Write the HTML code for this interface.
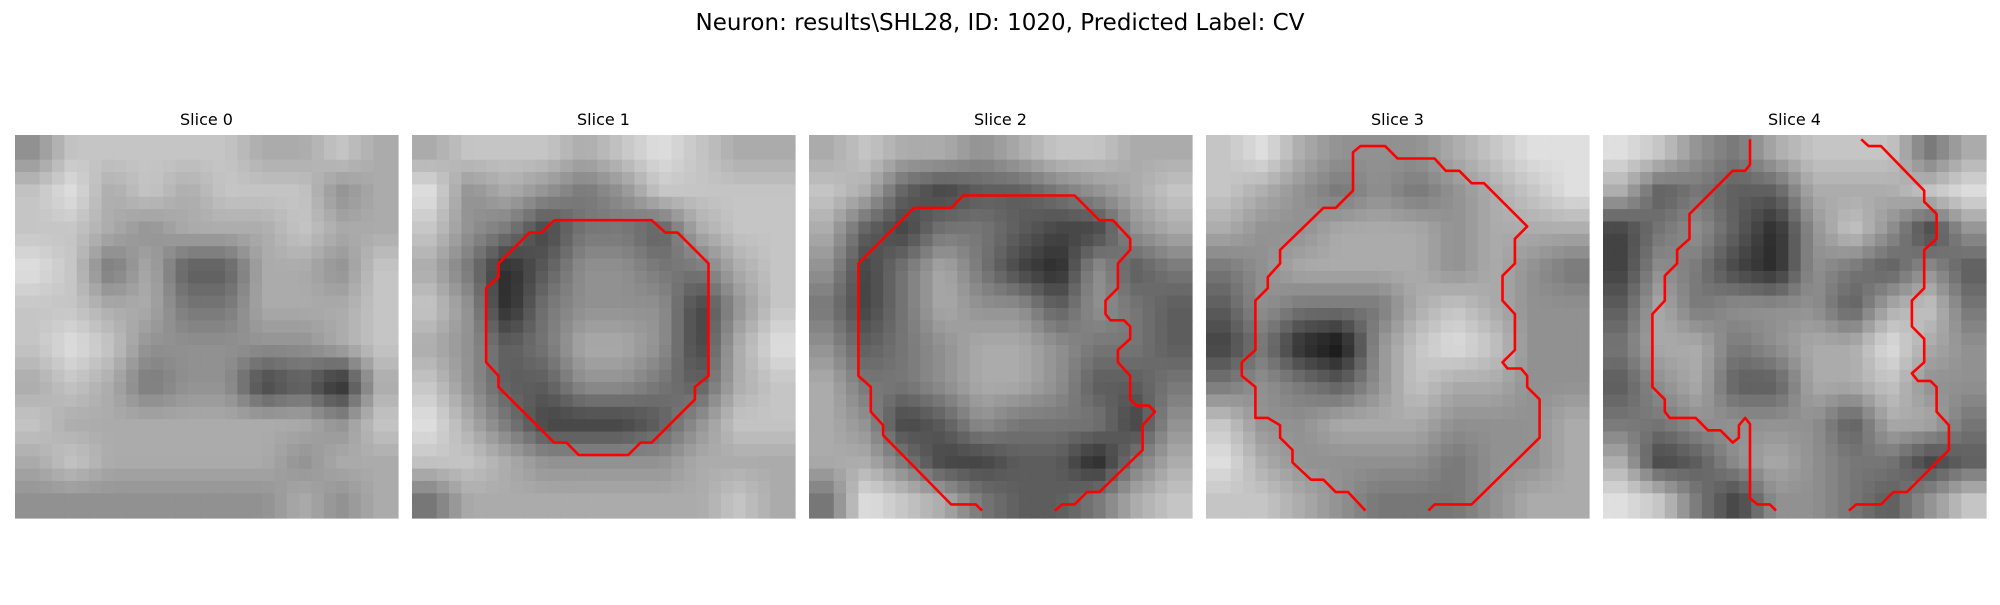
<!DOCTYPE html>
<html><head><meta charset="utf-8">
<style>
html,body{margin:0;padding:0;background:#fff;}
body{width:2000px;height:600px;overflow:hidden;font-family:"Liberation Sans","DejaVu Sans",sans-serif;}
</style></head>
<body>
<svg id="fig" width="2000" height="600" xmlns="http://www.w3.org/2000/svg">
<text x="1000" y="30" text-anchor="middle" font-size="23" font-family="DejaVu Sans, Liberation Sans, sans-serif">Neuron: results\SHL28, ID: 1020, Predicted Label: CV</text>
</svg>
<script>
const sliceTitles = ["Slice 0","Slice 1","Slice 2","Slice 3","Slice 4"];
const gridN = 31;
// coarse intensity grids (0 = black, 9 = white), 10x10 per slice
const slice0 = ["5777776676","7867677756","7765666766","8746336657","7766446667","7875555567","6764552316","7666666657","6766666566","5555555656"];
const slice1 = ["6777678766","8565457777","7542443677","6413554467","7514555257","6534665268","7533554367","8642223577","7765555666","4666666676"];
const slice2 = ["6766567766","7632334567","6324432256","5246421534","4246553543","5345665443","6445665334","6523544425","6642233146","4876433467"];
const slice3 = ["7865556788","7654545678","6556665666","4566665654","3544467655","2410578755","4543576655","7556665556","8655554556","7765444566"];
const slice4 = ["8754677746","6343366678","2453157525","2542154353","3645553674","4664566865","3563366755","4455553664","6235654423","8742554357"];
const slices = [slice0, slice1, slice2, slice3, slice4];
// contour outlines in cell units (x, y)
const contour1 = [[[11.5,6.9],[19.4,6.9],[20.5,7.9],[21.5,7.9],[24,10.4],[24,19.5],[22.9,20.4],[22.9,21.4],[19.4,24.9],[18.5,24.9],[17.5,25.9],[13.5,25.9],[12.5,24.9],[11.5,24.9],[7,20.4],[7,19.5],[6,18.4],[6,12.4],[7,11.5],[7,10.4],[9.5,7.9],[10.5,7.9],[11.5,6.9]]];
const contour2 = [[[14,30.4],[13.5,29.9],[11.5,29.9],[6,24.3],[6,23.5],[5,22.4],[5,20.4],[4,19.5],[4,10.4],[8.5,5.9],[11.5,5.9],[12.5,4.9],[21.5,4.9],[23.5,6.9],[24.6,6.9],[26,8.4],[26,9.3],[25,10.4],[25,12.4],[24,13.4],[24,14.5],[24.4,15],[25.5,15],[26,15.5],[26,16.5],[25,17.4],[25,18.4],[26,19.5],[26,21.4],[26.5,21.9],[27.5,21.9],[28,22.4],[27,23.5],[27,25.5],[23.5,28.9],[22.5,28.9],[21.5,29.9],[20.5,29.9],[19.9,30.4]]];
const contour3 = [[[12.9,30.4],[11.5,28.9],[10.5,28.9],[9.5,27.9],[8.5,27.9],[7,26.5],[7,25.5],[6,24.5],[6,23.5],[5,22.9],[4,22.9],[4,20.4],[2.9,19.5],[2.9,18.4],[4,17.4],[4,13.4],[5,12.4],[5,11.5],[6,10.4],[6,9.3],[9.5,5.9],[10.5,5.9],[11.9,4.5],[11.9,1.4],[12.5,0.9],[14.5,0.9],[15.5,1.9],[18.5,1.9],[19.4,2.9],[20.5,2.9],[21.5,3.9],[22.5,3.9],[26,7.4],[25,8.4],[25,10.4],[24,11.4],[24,13.4],[25,14.5],[25,17.4],[24,18.4],[24.4,18.9],[25.5,18.9],[26,19.5],[26,20.4],[27,21.4],[27,24.5],[21.5,29.9],[18.5,29.9],[18,30.4]]];
const contour4 = [
 [[11.9,0.35],[11.9,2.4],[11.5,2.9],[10.5,2.9],[7,6.4],[7,8.4],[6,9.3],[6,10.4],[5,11.4],[5,13.4],[4,14.5],[4,20.4],[5,21.4],[5,22.4],[5.4,22.9],[7.5,22.9],[8.5,23.9],[9.5,23.9],[10.5,24.9],[11,24.5],[11,23.5],[11.5,22.9],[11.9,23.4],[11.9,29.4],[12.5,29.9],[13.5,29.9],[14,30.4]],
 [[20.9,0.35],[21.5,0.9],[22.5,0.9],[26,4.5],[26,5.4],[27,6.4],[27,8.4],[26,9.3],[26,12.4],[25,13.4],[25,15.5],[26,16.5],[26,18.4],[25,19.3],[25.5,19.9],[26.5,19.9],[27,20.4],[27,22.4],[28,23.5],[28,25.5],[24.6,28.9],[23.5,28.9],[22.5,29.9],[20.5,29.9],[19.9,30.4]]
];
const contours = [[], contour1, contour2, contour3, contour4];

const NS = "http://www.w3.org/2000/svg";
const fig = document.getElementById('fig');
const panelX0 = 15, panelStep = 397, panelY = 135, panelSize = 383;
const cell = panelSize / gridN;
function sampleGrid(rows, cx, cy) {
  const n = rows.length, m = rows[0].length;
  let fx = (cx + 0.5) / gridN * n - 0.5, fy = (cy + 0.5) / gridN * m - 0.5;
  fx = Math.max(0, Math.min(m - 1, fx)); fy = Math.max(0, Math.min(n - 1, fy));
  const x0 = Math.floor(fx), y0 = Math.floor(fy);
  const x1 = Math.min(m - 1, x0 + 1), y1 = Math.min(n - 1, y0 + 1);
  const tx = fx - x0, ty = fy - y0;
  const v = (r, c) => +rows[r][c];
  return v(y0,x0)*(1-tx)*(1-ty) + v(y0,x1)*tx*(1-ty) + v(y1,x0)*(1-tx)*ty + v(y1,x1)*tx*ty;
}
function toGray(d) { return Math.round(Math.max(0, Math.min(255, 15 + d * 26))); }

slices.forEach((rows, k) => {
  const px = panelX0 + k * panelStep;
  const g = document.createElementNS(NS, 'g');
  
  
  fig.appendChild(g);
  const t = document.createElementNS(NS, 'text');
  
  
  t.setAttribute('x', px + panelSize / 2);
  t.setAttribute('y', 125);
  t.setAttribute('text-anchor', 'middle');
  t.setAttribute('font-size', '16');
  t.setAttribute('font-family', 'DejaVu Sans, Liberation Sans, sans-serif');
  t.textContent = sliceTitles[k];
  g.appendChild(t);
  for (let r = 0; r < gridN; r++) {
    for (let c = 0; c < gridN; c++) {
      const gv = toGray(sampleGrid(rows, c, r));
      const rect = document.createElementNS(NS, 'rect');
      
      
      rect.setAttribute('x', (px + c * cell).toFixed(2));
      rect.setAttribute('y', (panelY + r * cell).toFixed(2));
      rect.setAttribute('width', (cell + 0.6).toFixed(2));
      rect.setAttribute('height', (cell + 0.6).toFixed(2));
      rect.setAttribute('fill', `rgb(${gv},${gv},${gv})`);
      g.appendChild(rect);
    }
  }
  contours[k].forEach(line => {
    const pl = document.createElementNS(NS, 'polyline');
    
    
    pl.setAttribute('points', line.map(p => `${(px + p[0] * cell).toFixed(1)},${(panelY + p[1] * cell).toFixed(1)}`).join(' '));
    pl.setAttribute('fill', 'none');
    pl.setAttribute('stroke', '#ff0000');
    pl.setAttribute('stroke-width', '2.6');
    pl.setAttribute('stroke-linejoin', 'round');
    g.appendChild(pl);
  });
});
</script>
</body></html>
